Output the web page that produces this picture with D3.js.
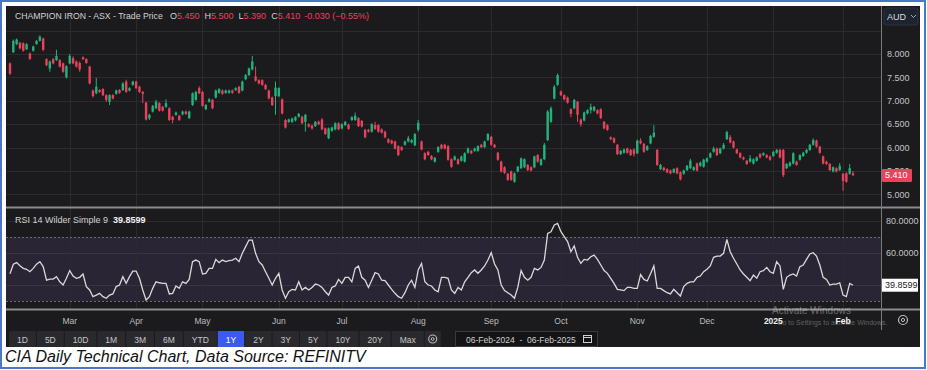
<!DOCTYPE html>
<html>
<head>
<meta charset="utf-8">
<script src="https://cdn.jsdelivr.net/npm/d3@7"></script>
<style>
  body { margin: 0; background: #fff; }
  text { font-family: "Liberation Sans", Arial, sans-serif; }
</style>
</head>
<body>
<svg id="chart" width="927" height="370"></svg>
<script>
// daily candles, 06-Feb-2024 .. 06-Feb-2025
const opens = [
  7.80,8.04,8.21,8.24,8.23,8.10,8.01,8.07,8.21,8.28, 8.33,7.89,7.69,7.89,7.87,7.87,7.80,7.50,7.80,7.91,
  7.84,7.81,7.93,7.89,7.73,7.22,7.16,7.23,7.25,7.12, 6.98,7.12,7.15,7.23,7.23,7.41,7.22,7.34,7.41,7.30,
  7.19,6.96,6.63,6.77,6.84,6.95,6.87,6.87,6.84,6.66, 6.70,6.68,6.71,6.77,6.63,6.91,7.02,7.27,7.19,6.82,
  6.98,7.02,7.07,7.17,7.22,7.17,7.17,7.22,7.23,7.30, 7.22,7.46,7.55,7.67,7.52,7.44,7.44,7.34,7.22,7.07,
  7.10,7.10,7.03,6.59,6.55,6.55,6.58,6.66,6.66,6.55, 6.50,6.47,6.46,6.55,6.60,6.41,6.20,6.36,6.39,6.52,
  6.41,6.48,6.49,6.59,6.59,6.63,6.57,6.38,6.38,6.34, 6.48,6.48,6.39,6.34,6.18,6.15,6.13,6.03,6.01,6.06,
  6.13,6.11,6.05,6.38,6.13,5.88,5.91,5.82,5.70,5.91, 6.06,6.06,6.03,5.75,5.74,5.75,5.72,5.70,5.89,5.93,
  5.93,5.93,6.06,6.01,6.16,6.23,6.06,5.89,5.70,5.58, 5.44,5.49,5.27,5.49,5.56,5.58,5.63,5.58,5.58,5.84,
  5.63,5.75,6.16,6.55,7.05,7.34,7.20,7.12,7.07,6.82, 6.84,6.98,6.60,6.58,6.73,6.80,6.79,6.80,6.82,6.55,
  6.48,6.22,6.20,6.06,5.86,5.89,5.98,5.95,5.96,5.88, 6.15,6.08,5.95,6.09,6.23,5.95,5.54,5.57,5.54,5.51,
  5.47,5.56,5.47,5.44,5.52,5.56,5.52,5.66,5.61,5.59, 5.70,5.79,5.91,5.98,5.88,5.98,6.18,6.22,6.13,5.96,
  5.88,5.79,5.72,5.70,5.66,5.72,5.86,5.84,5.84,5.81, 5.82,5.89,5.95,5.95,5.56,5.61,5.66,5.70,5.74,5.82,
  5.89,5.95,6.06,6.15,6.02,5.81,5.70,5.65,5.49,5.56, 5.52,5.44,5.45,5.44,5.45
];
const highs = [
  7.82,8.31,8.33,8.26,8.25,8.23,8.03,8.18,8.30,8.40, 8.35,7.91,7.86,7.91,8.09,7.89,7.82,7.76,8.00,7.95,
  7.86,7.84,7.95,7.91,7.75,7.24,7.49,7.25,7.27,7.14, 7.14,7.14,7.24,7.25,7.40,7.45,7.29,7.43,7.43,7.32,
  7.21,6.98,6.72,6.91,7.02,6.97,6.89,7.03,6.86,6.68, 6.77,6.70,6.79,6.79,6.79,7.18,7.21,7.31,7.21,6.93,
  7.06,7.04,7.24,7.27,7.24,7.24,7.24,7.24,7.29,7.32, 7.43,7.57,7.71,7.96,7.73,7.46,7.46,7.36,7.24,7.09,
  7.41,7.29,7.05,6.61,6.62,6.64,6.67,6.74,6.68,6.72, 6.52,6.49,6.57,6.58,6.63,6.43,6.43,6.45,6.54,6.54,
  6.52,6.57,6.51,6.67,6.75,6.65,6.59,6.40,6.40,6.52, 6.55,6.50,6.41,6.36,6.20,6.17,6.15,6.05,6.03,6.15,
  6.25,6.18,6.31,6.59,6.15,5.90,5.93,5.84,5.80,6.03, 6.08,6.08,6.05,5.77,5.83,5.77,5.83,5.90,6.00,5.95,
  6.00,6.05,6.08,6.15,6.31,6.25,6.08,5.91,5.72,5.60, 5.46,5.51,5.47,5.61,5.79,5.77,5.65,5.60,5.83,5.86,
  5.77,6.10,6.80,6.88,7.34,7.58,7.22,7.14,7.09,6.84, 7.04,7.00,6.62,6.77,6.82,6.94,6.89,6.82,6.84,6.57,
  6.50,6.24,6.22,6.08,5.95,5.98,6.00,5.97,5.98,6.17, 6.20,6.10,6.05,6.27,6.48,5.97,5.65,5.59,5.56,5.53,
  5.56,5.58,5.49,5.53,5.63,5.76,5.60,5.68,5.70,5.76, 5.79,5.90,6.02,6.00,6.00,6.10,6.36,6.27,6.15,5.98,
  5.90,5.81,5.74,5.84,5.77,5.81,5.88,5.90,5.86,5.83, 5.93,5.97,5.97,5.97,5.67,5.70,5.90,5.72,5.86,5.91,
  5.97,6.08,6.20,6.17,6.04,5.83,5.72,5.67,5.60,5.58, 5.67,5.46,5.47,5.65,5.50
];
const lows = [
  7.55,8.02,8.19,8.10,8.05,8.09,7.88,8.05,8.20,8.27, 8.06,7.74,7.62,7.78,7.85,7.71,7.60,7.48,7.78,7.78,
  7.71,7.62,7.87,7.79,7.35,7.07,7.14,7.17,7.10,6.98, 6.91,7.03,7.13,7.15,7.21,7.17,7.20,7.32,7.25,7.17,
  6.95,6.58,6.59,6.75,6.82,6.77,6.77,6.85,6.57,6.52, 6.68,6.57,6.69,6.70,6.61,6.89,7.00,7.14,6.87,6.80,
  6.96,6.82,7.05,7.15,7.13,7.15,7.15,7.15,7.21,7.15, 7.20,7.44,7.53,7.65,7.41,7.35,7.32,7.23,7.03,6.89,
  6.70,7.08,6.71,6.41,6.53,6.53,6.56,6.64,6.50,6.34, 6.43,6.38,6.44,6.48,6.37,6.27,6.18,6.34,6.37,6.37,
  6.39,6.46,6.38,6.57,6.57,6.44,6.43,6.20,6.32,6.32, 6.38,6.32,6.30,6.20,6.09,6.07,5.96,5.82,5.93,6.04,
  6.11,6.09,6.03,6.34,5.94,5.73,5.82,5.73,5.68,5.89, 5.96,5.96,5.72,5.57,5.72,5.63,5.70,5.68,5.87,5.86,
  5.91,5.91,5.99,5.99,6.14,6.04,5.99,5.72,5.47,5.44, 5.29,5.29,5.25,5.47,5.54,5.56,5.50,5.49,5.56,5.68,
  5.61,5.73,6.14,6.53,7.03,7.32,7.10,7.01,6.94,6.65, 6.82,6.55,6.45,6.56,6.71,6.73,6.77,6.71,6.61,6.39,
  6.36,6.16,6.09,5.84,5.84,5.87,5.87,5.82,5.81,5.86, 6.07,5.89,5.93,6.07,6.21,5.61,5.52,5.50,5.45,5.43,
  5.45,5.43,5.30,5.42,5.50,5.54,5.50,5.49,5.59,5.57, 5.68,5.77,5.89,5.82,5.86,5.96,6.16,6.09,5.98,5.86,
  5.77,5.73,5.63,5.68,5.64,5.70,5.77,5.82,5.77,5.72, 5.80,5.87,5.77,5.37,5.54,5.59,5.64,5.61,5.72,5.80,
  5.87,5.93,6.04,6.00,5.87,5.64,5.63,5.50,5.47,5.47, 5.50,5.08,5.25,5.42,5.39
];
const closes = [
  7.58,8.28,8.31,8.12,8.07,8.21,7.89,8.16,8.28,8.37, 8.09,7.76,7.84,7.80,7.96,7.73,7.62,7.74,7.96,7.80,
  7.73,7.67,7.89,7.81,7.37,7.10,7.30,7.19,7.12,7.02, 7.12,7.05,7.22,7.17,7.37,7.19,7.27,7.41,7.27,7.19,
  7.15,6.60,6.70,6.89,6.98,6.79,6.79,6.95,6.59,6.59, 6.75,6.59,6.77,6.72,6.77,7.16,7.19,7.16,6.89,6.91,
  7.03,6.84,7.22,7.25,7.15,7.22,7.22,7.17,7.27,7.17, 7.41,7.55,7.69,7.84,7.43,7.37,7.34,7.25,7.05,6.91,
  7.28,7.27,6.73,6.43,6.60,6.62,6.65,6.72,6.52,6.70, 6.45,6.41,6.55,6.50,6.39,6.29,6.41,6.43,6.52,6.39,
  6.50,6.55,6.40,6.65,6.68,6.46,6.45,6.22,6.34,6.50, 6.40,6.34,6.32,6.22,6.11,6.09,5.98,5.84,5.95,6.13,
  6.20,6.16,6.29,6.53,5.96,5.75,5.84,5.75,5.78,6.01, 5.98,5.98,5.74,5.59,5.81,5.65,5.81,5.88,5.98,5.88,
  5.98,6.03,6.01,6.13,6.29,6.06,6.01,5.74,5.49,5.46, 5.31,5.31,5.45,5.59,5.77,5.75,5.52,5.51,5.81,5.70,
  5.75,6.06,6.77,6.84,7.30,7.55,7.12,7.03,6.96,6.72, 7.02,6.70,6.50,6.75,6.80,6.87,6.87,6.73,6.63,6.41,
  6.38,6.18,6.11,5.86,5.93,5.96,5.89,5.84,5.86,6.15, 6.09,5.91,6.03,6.25,6.32,5.63,5.63,5.52,5.47,5.45,
  5.54,5.45,5.32,5.51,5.61,5.72,5.58,5.51,5.68,5.74, 5.77,5.88,5.98,5.84,5.98,6.06,6.33,6.11,6.00,5.88,
  5.79,5.75,5.65,5.77,5.75,5.79,5.79,5.88,5.79,5.74, 5.91,5.95,5.79,5.41,5.65,5.68,5.88,5.63,5.84,5.89,
  5.95,6.06,6.16,6.02,5.89,5.66,5.65,5.52,5.58,5.49, 5.61,5.29,5.27,5.56,5.41
];
// RSI 14 Wilder, one value per candle
const rsi = [
  47,53,54,52,50.4,49.8,48.3,50.4,53,54.6, 51.5,43,43.7,43.7,45.2,42,40,44.2,49,45.6,
  44.2,44.8,46.9,39,36.9,32.7,33.7,34.8,32.7,31.7, 33.7,34.4,39,40,45.2,41,45.2,48.7,48.7,44.2,
  36.9,30.6,32.7,37.9,42,41.4,41,41,34.4,34.8, 39.4,37.9,42,41,43.5,54.6,55.6,54.6,46.9,47.3,
  50.4,50.4,56,54,55.6,54.6,55.2,55.6,56.7,54.6, 59.8,64,68.1,68.1,59.8,54.6,52.5,48.3,44.2,40,
  44.2,47.3,36.9,31.7,35.8,37.3,36.9,42,36.9,38.5, 36.9,38.5,40.6,40,38.5,35.8,33.7,38.5,39.4,43.5,
  41,44.8,44.8,42,50.4,51.9,44.8,43,38.5,43, 47.7,46.9,43,42.7,40,37.3,34.8,32.7,31.7,35.2,
  40,43,38.5,49.4,53.5,42,40,39.4,36.9,35.8, 44.8,44.8,44.2,36.9,34.8,38.5,36.9,42,44.8,47.7,
  49.4,47.3,49.4,51.9,55.6,60.2,53.1,49.4,40,36.5, 35.2,33.7,31.7,38.5,49,44.8,43,44.8,50.4,49.4,
  51,55.6,72.3,73.3,77.5,78.5,73.3,70.2,67.1,60.8, 64.4,57.3,53.5,56,55.6,57.7,58.7,56,52.5,49,
  47.3,44.2,41,37.3,36.9,36.5,38.5,38.5,37.9,37.9, 46.5,43.5,42.5,47,51.9,37.9,37.9,36.5,35.2,34.4,
  37.3,35.2,33.1,39,41,42,42,44.8,45.6,48.3, 49.8,51.9,57.3,58.1,58.1,59.8,68.5,60.8,56.7,53.1,
  49.4,46.9,44.8,42.7,46.2,44.2,48.3,49,51,48.3, 47.3,54.6,51.9,37.3,44.8,46.2,46.9,45.6,51.5,52.5,
  56,59.4,60.2,58.1,52.5,44.8,43.5,40,40.6,40.6, 41.4,33.7,32.7,41,39.8599
];
// candle index where each month starts
const monthTicks = [18, 38, 58, 81, 100, 123, 145, 166, 189, 210, 230, 251];
const monthLabels = ['Mar', 'Apr', 'May', 'Jun', 'Jul', 'Aug', 'Sep', 'Oct', 'Nov', 'Dec', '2025', 'Feb'];
const priceTicks = [5, 5.5, 6, 6.5, 7, 7.5, 8];
const priceGrid = [5, 5.5, 6, 6.5, 7, 7.5, 8, 8.5];
const rsiTicks = [60, 80];
const rsiGrid = [40, 60, 80];
const rsiBands = [30, 70];
const rangeButtons = ['1D', '5D', '10D', '1M', '3M', '6M', 'YTD', '1Y', '2Y', '3Y', '5Y', '10Y', '20Y', 'Max'];
const activeRange = '1Y';
const ohlcLabels = ['O', 'H', 'L', 'C'];
const ohlcValues = ['5.450', '5.500', '5.390', '5.410'];

const svg = d3.select('#chart');
const up = '#22b37c', down = '#e8435c';

// picture frame + dark chart background
svg.append('rect').attr('x', 1).attr('y', 1).attr('width', 924).attr('height', 367)
  .attr('fill', '#fff').attr('stroke', '#4a76c6').attr('stroke-width', 2);
svg.append('rect').attr('x', 6).attr('y', 6).attr('width', 914).attr('height', 341).attr('fill', '#1b1b1d');

const plotL = 6, plotR = 881;
const x = d3.scaleLinear().domain([0, closes.length - 1]).range([10, 853]);
const yP = d3.scaleLinear().domain([5, 8]).range([194.4, 54]);
const yR = d3.scaleLinear().domain([30, 80]).range([301, 221]);

// RSI band background
svg.append('rect').attr('x', plotL).attr('width', plotR - plotL)
  .attr('y', yR(rsiBands[1])).attr('height', yR(rsiBands[0]) - yR(rsiBands[1]))
  .attr('fill', '#2a2535');

// grids
const grid = svg.append('g').attr('stroke', '#2b2b2e').attr('stroke-width', 1);
grid.selectAll('.hp').data(priceGrid).join('line')
  .attr('x1', plotL).attr('x2', plotR)
  .attr('y1', d => Math.round(yP(d)) + 0.5).attr('y2', d => Math.round(yP(d)) + 0.5);
grid.selectAll('.hr').data(rsiGrid).join('line')
  .attr('x1', plotL).attr('x2', plotR)
  .attr('y1', d => Math.round(yR(d)) + 0.5).attr('y2', d => Math.round(yR(d)) + 0.5)
  .attr('stroke', 'rgba(255,255,255,0.07)');
grid.selectAll('.v').data(monthTicks).join('line')
  .attr('x1', d => Math.round(x(d)) + 0.5).attr('x2', d => Math.round(x(d)) + 0.5)
  .attr('y1', 6).attr('y2', 309);

svg.selectAll('.band').data(rsiBands).join('line')
  .attr('x1', plotL).attr('x2', plotR)
  .attr('y1', d => Math.round(yR(d)) + 0.5).attr('y2', d => Math.round(yR(d)) + 0.5)
  .attr('stroke', '#6b6b70').attr('stroke-dasharray', '2,2');

// candles
const candles = svg.append('g');
closes.forEach((c, i) => {
  const o = opens[i], col = c >= o ? up : down;
  candles.append('line')
    .attr('x1', x(i)).attr('x2', x(i))
    .attr('y1', yP(highs[i])).attr('y2', yP(lows[i]))
    .attr('stroke', col).attr('stroke-width', 1);
  const top = yP(Math.max(o, c)), bot = yP(Math.min(o, c));
  candles.append('rect')
    .attr('x', x(i) - 1.2).attr('width', 2.4)
    .attr('y', top).attr('height', Math.max(1, bot - top))
    .attr('fill', col);
});

// RSI line
svg.append('path').datum(rsi)
  .attr('d', d3.line().x((d, i) => x(i)).y(d => yR(d)))
  .attr('fill', 'none').attr('stroke', '#d9d9d9').attr('stroke-width', 1.3);

// panel separators and right axis border
svg.append('line').attr('x1', 6).attr('x2', 920).attr('y1', 207.5).attr('y2', 207.5)
  .attr('stroke', '#8c8c8c').attr('stroke-width', 2);
svg.append('line').attr('x1', 6).attr('x2', 920).attr('y1', 309.5).attr('y2', 309.5)
  .attr('stroke', '#8c8c8c').attr('stroke-width', 2);
svg.append('line').attr('x1', plotR + 0.5).attr('x2', plotR + 0.5).attr('y1', 6).attr('y2', 330)
  .attr('stroke', '#7a7a7a').attr('stroke-width', 1);

// price axis
svg.selectAll('.pt').data(priceTicks).join('text')
  .attr('x', 887).attr('y', d => yP(d)).attr('dy', '0.35em')
  .attr('font-size', 9).attr('fill', '#c4c4c4')
  .text(d => d.toFixed(3));
svg.append('rect').attr('x', 882).attr('y', 169).attr('width', 30).attr('height', 13)
  .attr('rx', 1).attr('fill', down);
svg.append('text').attr('x', 885).attr('y', yP(closes[closes.length - 1])).attr('dy', '0.35em')
  .attr('font-size', 9).attr('fill', '#fff').text(closes[closes.length - 1].toFixed(3));

// currency box
svg.append('rect').attr('x', 884).attr('y', 8).attr('width', 34).attr('height', 17)
  .attr('rx', 2).attr('fill', '#1e2330').attr('stroke', '#2c3343');
svg.append('text').attr('x', 887).attr('y', 20).attr('font-size', 9).attr('fill', '#dcdcdc').text('AUD');
svg.append('path').attr('d', 'M911,15 l2.5,2.5 l2.5,-2.5').attr('fill', 'none')
  .attr('stroke', '#aaa').attr('stroke-width', 1);

// RSI axis
svg.selectAll('.rt').data(rsiTicks).join('text')
  .attr('x', 886).attr('y', d => yR(d)).attr('dy', '0.35em')
  .attr('font-size', 9).attr('fill', '#c4c4c4')
  .text(d => d.toFixed(4));
svg.append('rect').attr('x', 882).attr('y', yR(rsi[rsi.length - 1]) - 6.5).attr('width', 36).attr('height', 13)
  .attr('fill', '#fff');
svg.append('text').attr('x', 885).attr('y', yR(rsi[rsi.length - 1])).attr('dy', '0.35em')
  .attr('font-size', 9).attr('fill', '#222').text(rsi[rsi.length - 1].toFixed(4));

// headers
svg.append('text').attr('x', 15).attr('y', 19).attr('font-size', 8.7).attr('fill', '#d2d2d2')
  .text('CHAMPION IRON - ASX - Trade Price');
const ohlc = svg.append('text').attr('x', 170).attr('y', 19).attr('font-size', 9);
ohlcLabels.forEach((l, i) => {
  ohlc.append('tspan').attr('fill', '#d2d2d2').attr('dx', i ? 5 : 0).text(l);
  ohlc.append('tspan').attr('fill', '#e8435c').text(ohlcValues[i]);
});
ohlc.append('tspan').attr('fill', '#e8435c').attr('dx', 4).text('-0.030 (\u22120.55%)');

const rsiHead = svg.append('text').attr('x', 15).attr('y', 223).attr('font-size', 9);
rsiHead.append('tspan').attr('fill', '#d2d2d2').text('RSI 14 Wilder Simple 9');
rsiHead.append('tspan').attr('fill', '#f0f0f0').attr('dx', 5).attr('font-weight', 'bold')
  .text(rsi[rsi.length - 1].toFixed(4));

// time axis
svg.selectAll('.mt').data(monthTicks).join('text')
  .attr('x', d => x(d)).attr('y', 324).attr('text-anchor', 'middle')
  .attr('font-size', 8.5)
  .attr('font-weight', (d, i) => (monthLabels[i] === '2025' || monthLabels[i] === 'Feb') ? 'bold' : 'normal')
  .attr('fill', (d, i) => (monthLabels[i] === '2025' || monthLabels[i] === 'Feb') ? '#eeeeee' : '#bdbdbd')
  .text((d, i) => monthLabels[i]);

// windows watermark
svg.append('text').attr('x', 772).attr('y', 314).attr('font-size', 10).attr('fill', 'rgba(255,255,255,0.35)')
  .attr('font-family', 'Open Sans, sans-serif').text('Activate Windows');
svg.append('text').attr('x', 777).attr('y', 324.5).attr('font-size', 7).attr('fill', 'rgba(255,255,255,0.3)')
  .attr('font-family', 'Open Sans, sans-serif').text('Go to Settings to activate Windows.');

// gear at bottom right
svg.append('circle').attr('cx', 903).attr('cy', 320).attr('r', 4.5).attr('fill', 'none')
  .attr('stroke', '#bbb').attr('stroke-width', 1.2);
svg.append('circle').attr('cx', 903).attr('cy', 320).attr('r', 1.6).attr('fill', 'none')
  .attr('stroke', '#bbb').attr('stroke-width', 1);

// range buttons
const btnG = svg.append('g');
let bx = 9;
rangeButtons.forEach(b => {
  const g = btnG.append('g');
  const t = g.append('text').attr('y', 342.5).attr('font-size', 8.5).attr('text-anchor', 'middle')
    .attr('fill', b === activeRange ? '#fff' : '#c6c6c6').text(b);
  const w = Math.max(26, t.node().getComputedTextLength() + 16);
  g.insert('rect', 'text').attr('x', bx).attr('y', 331).attr('width', w).attr('height', 16)
    .attr('fill', b === activeRange ? '#3b5bf0' : '#2a2a2e');
  t.attr('x', bx + w / 2);
  bx += w + 1;
});
btnG.append('rect').attr('x', bx).attr('y', 331).attr('width', 16).attr('height', 16).attr('fill', '#2a2a2e');
btnG.append('circle').attr('cx', bx + 8).attr('cy', 339).attr('r', 4).attr('fill', 'none')
  .attr('stroke', '#bbb').attr('stroke-width', 1.1);
btnG.append('circle').attr('cx', bx + 8).attr('cy', 339).attr('r', 1.4).attr('fill', 'none')
  .attr('stroke', '#bbb').attr('stroke-width', 1);

// date range box
svg.append('rect').attr('x', 455.5).attr('y', 331.5).attr('width', 142).attr('height', 15)
  .attr('fill', '#141416').attr('stroke', '#3a3a3e');
svg.append('text').attr('x', 466).attr('y', 342.5).attr('font-size', 8.5).attr('fill', '#cfcfcf')
  .attr('xml:space', 'preserve').text('06-Feb-2024  -  06-Feb-2025');
svg.append('rect').attr('x', 583.5).attr('y', 335.5).attr('width', 8).attr('height', 7)
  .attr('fill', 'none').attr('stroke', '#cfcfcf').attr('stroke-width', 1);
svg.append('line').attr('x1', 583.5).attr('x2', 591.5).attr('y1', 337.5).attr('y2', 337.5)
  .attr('stroke', '#cfcfcf').attr('stroke-width', 1);

// caption
svg.append('text').attr('x', 5).attr('y', 362).attr('font-size', 16).attr('font-style', 'italic')
  .attr('fill', '#111').text('CIA Daily Technical Chart, Data Source: REFINITV');
</script>
</body>
</html>
